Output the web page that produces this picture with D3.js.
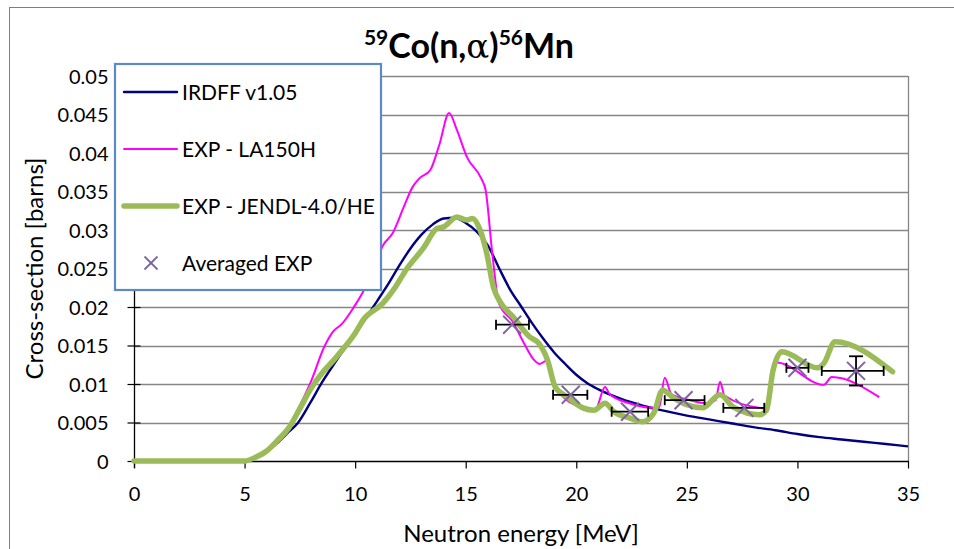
<!DOCTYPE html>
<html>
<head>
<meta charset="utf-8">
<script src="https://cdn.jsdelivr.net/npm/d3@7"></script>
<style>
  html, body { margin: 0; padding: 0; background: #fff; }
  svg { display: block; font-family: Lato, "Open Sans", sans-serif; }
</style>
</head>
<body>
<svg id="chart" width="954" height="549"></svg>
<script>
// IRDFF v1.05 evaluated cross-section
const irdffE  = [0, 4.8, 5.2, 5.6, 6.0, 6.5, 7.0, 7.4, 8.0, 8.5, 9.0, 9.5, 10.0, 10.5, 11.0, 11.5, 12.0, 12.5, 13.0, 13.5, 14.0, 14.5, 15.0, 15.5, 16.0, 16.5, 17.0, 17.5, 18.0, 18.5, 19.0, 19.5, 20.0, 20.5, 21.0, 22.0, 23.0, 24.0, 25.0, 26.0, 27.0, 28.0, 29.0, 30.0, 31.0, 32.0, 33.0, 34.0, 35.0];
const irdffXS = [0, 0, 0.0001, 0.0005, 0.0012, 0.0024, 0.0038, 0.0049, 0.0077, 0.0102, 0.0124, 0.0145, 0.0165, 0.0186, 0.0208, 0.0230, 0.0254, 0.0276, 0.0294, 0.0307, 0.0315, 0.0316, 0.0309, 0.0298, 0.0280, 0.0251, 0.0223, 0.0201, 0.0179, 0.0159, 0.0141, 0.0126, 0.0112, 0.0101, 0.0093, 0.0081, 0.0072, 0.0065, 0.0059, 0.0054, 0.0049, 0.0044, 0.0040, 0.0035, 0.0031, 0.0028, 0.0025, 0.0022, 0.0019];

// EXP - LA150H
const la150E  = [0, 5.0, 5.5, 6.0, 6.5, 7.0, 7.5, 8.0, 8.6, 9.0, 9.4, 9.9, 10.4, 10.9, 11.26, 11.7, 12.2, 12.6, 12.9, 13.4, 13.8, 14.25, 14.6, 15.05, 15.7, 15.9, 16.2, 16.5, 17.15, 17.6, 18.1, 18.35, 18.7, 18.95, 19.26, 20.2, 20.85, 21.3, 21.5, 22.4, 23.5, 23.75, 24.0, 24.3, 25.0, 25.9, 26.3, 26.5, 26.7, 28.3, 28.6, 29.05, 31.2, 31.55, 33.7];
const la150XS = [0, 0, 0.0005, 0.0014, 0.0028, 0.0045, 0.0072, 0.0103, 0.0148, 0.0168, 0.0178, 0.0198, 0.0222, 0.0255, 0.0280, 0.0296, 0.0330, 0.0356, 0.0367, 0.0378, 0.0410, 0.0452, 0.0430, 0.0395, 0.0367, 0.0352, 0.0270, 0.0205, 0.0180, 0.0155, 0.0131, 0.0126, 0.0131, 0.0105, 0.0088, 0.0070, 0.0066, 0.0096, 0.0087, 0.0075, 0.0069, 0.0070, 0.0108, 0.0087, 0.0080, 0.0075, 0.0079, 0.0103, 0.0085, 0.0069, 0.0068, 0.0128, 0.0099, 0.0109, 0.0083];

// EXP - JENDL-4.0/HE
const jendlE  = [0, 5.0, 5.5, 6.0, 6.5, 7.0, 7.5, 8.0, 8.5, 9.0, 9.5, 10.0, 10.36, 11.26, 11.8, 12.3, 13.1, 13.7, 14.0, 14.6, 15.05, 15.3, 15.65, 15.95, 16.25, 16.55, 17.15, 17.9, 18.3, 18.7, 19.05, 19.6, 20.3, 20.8, 21.3, 21.7, 22.4, 23.0, 23.5, 23.9, 24.4, 25.0, 25.7, 26.5, 27.1, 28.3, 28.6, 28.9, 29.3, 30.9, 31.2, 31.7, 34.3];
const jendlXS = [0, 0, 0.0005, 0.0013, 0.0027, 0.0043, 0.0068, 0.0094, 0.0114, 0.0130, 0.0147, 0.0166, 0.0183, 0.0205, 0.0225, 0.0248, 0.0277, 0.0302, 0.0304, 0.0317, 0.0313, 0.0315, 0.0300, 0.0270, 0.0226, 0.0207, 0.0187, 0.0161, 0.0153, 0.0131, 0.0096, 0.0083, 0.0069, 0.0066, 0.0075, 0.0064, 0.0056, 0.0051, 0.0062, 0.0092, 0.0082, 0.0073, 0.0069, 0.0086, 0.0070, 0.0060, 0.0066, 0.0118, 0.0142, 0.0121, 0.0127, 0.0155, 0.0116];

// Averaged EXP with energy bins and uncertainty
const avgE    = [17.1, 19.75, 22.43, 24.85, 27.6, 30.0, 32.65];
const avgXS   = [0.0177, 0.0086, 0.0064, 0.0079, 0.0069, 0.0121, 0.0117];
const avgElo  = [16.37, 18.95, 21.6, 24.0, 26.65, 29.5, 31.1];
const avgEhi  = [17.86, 20.5, 23.25, 25.8, 28.5, 30.5, 33.9];
const avgErr  = [0, 0, 0, 0, 0, 0, 0.0019];

const xTicks = [0, 5, 10, 15, 20, 25, 30, 35];
const yTicks = [0, 0.005, 0.01, 0.015, 0.02, 0.025, 0.03, 0.035, 0.04, 0.045, 0.05];

const seriesNames = ["IRDFF v1.05", "EXP - LA150H", "EXP - JENDL-4.0/HE", "Averaged EXP"];

const svg = d3.select("#chart");
const pLeft = 134, pRight = 908, pTop = 76, pBottom = 461;

const x = d3.scaleLinear().domain([0, 35]).range([pLeft, pRight]);
const y = d3.scaleLinear().domain([0, 0.05]).range([pBottom, pTop]);

// chart area border
svg.append("rect").attr("x", 9.5).attr("y", 7.5).attr("width", 980).attr("height", 600)
  .attr("fill", "#fff").attr("stroke", "#7f7f7f").attr("stroke-width", 1);

// gridlines
svg.append("g").selectAll("line").data(yTicks.slice(1)).join("line")
  .attr("x1", pLeft).attr("x2", pRight)
  .attr("y1", d => Math.round(y(d)) + 0.5).attr("y2", d => Math.round(y(d)) + 0.5)
  .attr("stroke", "#868686").attr("stroke-width", 1.3);

// plot area right edge
svg.append("line").attr("x1", pRight + 0.5).attr("x2", pRight + 0.5).attr("y1", pTop).attr("y2", pBottom)
  .attr("stroke", "#868686").attr("stroke-width", 1.3);

// axes
const yAxis = d3.axisLeft(y).tickValues(yTicks).tickSize(0).tickPadding(0)
  .tickFormat(d => d === 0 ? "0" : String(+d.toFixed(3)));
const gy = svg.append("g").attr("transform", `translate(${pLeft + 0.5},0)`).call(yAxis);
gy.select(".domain").remove();
gy.selectAll(".tick text").attr("x", -26).attr("dy", "0.35em")
  .attr("font-size", 20).attr("font-family", "Lato").attr("fill", "#000");
gy.selectAll(".tick").append("line").attr("x1", -7).attr("x2", 6).attr("stroke", "#000").attr("stroke-width", 1.2);

const xAxis = d3.axisBottom(x).tickValues(xTicks).tickSize(7).tickPadding(0).tickFormat(d3.format("d"));
const gx = svg.append("g").attr("transform", `translate(0,${pBottom + 0.5})`).call(xAxis);
gx.select(".domain").remove();
gx.selectAll(".tick line").attr("stroke", "#000").attr("stroke-width", 1.2);
gx.selectAll(".tick text").attr("y", 25).attr("dy", "0.71em")
  .attr("font-size", 20).attr("font-family", "Lato").attr("fill", "#000");

svg.append("line").attr("x1", pLeft).attr("x2", pRight + 1).attr("y1", pBottom + 0.5).attr("y2", pBottom + 0.5)
  .attr("stroke", "#000").attr("stroke-width", 1.3);
svg.append("line").attr("x1", pLeft + 0.5).attr("x2", pLeft + 0.5).attr("y1", pTop).attr("y2", pBottom + 7)
  .attr("stroke", "#000").attr("stroke-width", 1.3);

// series lines
const toPts = (es, vs) => es.map((e, i) => [e, vs[i]]);
const line = d3.line().x(d => x(d[0])).y(d => y(d[1])).curve(d3.curveMonotoneX);

svg.append("path").datum(toPts(irdffE, irdffXS)).attr("d", line)
  .attr("fill", "none").attr("stroke", "#000080").attr("stroke-width", 2.4).attr("stroke-linejoin", "round");
svg.append("path").datum(toPts(la150E, la150XS)).attr("d", line)
  .attr("fill", "none").attr("stroke", "#ff00ff").attr("stroke-width", 2).attr("stroke-linejoin", "round");
svg.append("path").datum(toPts(jendlE, jendlXS)).attr("d", line)
  .attr("fill", "none").attr("stroke", "#9bbb59").attr("stroke-width", 5.5)
  .attr("stroke-linejoin", "round").attr("stroke-linecap", "round");

// averaged experimental points with error bars
const avg = avgE.map((e, i) => ({ e, v: avgXS[i], lo: avgElo[i], hi: avgEhi[i], err: avgErr[i] }));
const eb = svg.append("g").attr("stroke", "#000").attr("stroke-width", 1.8).attr("fill", "none");
avg.forEach(p => {
  const yy = y(p.v);
  eb.append("line").attr("x1", x(p.lo)).attr("x2", x(p.hi)).attr("y1", yy).attr("y2", yy);
  eb.append("line").attr("x1", x(p.lo)).attr("x2", x(p.lo)).attr("y1", yy - 5).attr("y2", yy + 5);
  eb.append("line").attr("x1", x(p.hi)).attr("x2", x(p.hi)).attr("y1", yy - 5).attr("y2", yy + 5);
  if (p.err > 0) {
    const y1 = y(p.v + p.err), y2 = y(p.v - p.err);
    eb.append("line").attr("x1", x(p.e)).attr("x2", x(p.e)).attr("y1", y1).attr("y2", y2);
    eb.append("line").attr("x1", x(p.e) - 7).attr("x2", x(p.e) + 7).attr("y1", y1).attr("y2", y1);
    eb.append("line").attr("x1", x(p.e) - 7).attr("x2", x(p.e) + 7).attr("y1", y2).attr("y2", y2);
  }
});
const cross = (g, cx, cy, r) => {
  g.append("line").attr("x1", cx - r).attr("x2", cx + r).attr("y1", cy - r).attr("y2", cy + r);
  g.append("line").attr("x1", cx - r).attr("x2", cx + r).attr("y1", cy + r).attr("y2", cy - r);
};
const mk = svg.append("g").attr("stroke", "#8064a2").attr("stroke-width", 2);
avg.forEach(p => cross(mk, x(p.e), y(p.v), 9));

// legend
const lg = svg.append("g");
lg.append("rect").attr("x", 115).attr("y", 64).attr("width", 266).attr("height", 226)
  .attr("fill", "#fff").attr("stroke", "#5b8ac6").attr("stroke-width", 2.2);
const rows = [92, 149, 206, 263];
const lstyles = [
  { c: "#000080", w: 2.4 }, { c: "#ff00ff", w: 2 }, { c: "#9bbb59", w: 5.5 }
];
lstyles.forEach((s, i) => {
  lg.append("line").attr("x1", 124).attr("x2", 177).attr("y1", rows[i]).attr("y2", rows[i])
    .attr("stroke", s.c).attr("stroke-width", s.w).attr("stroke-linecap", "round");
});
const lmk = lg.append("g").attr("stroke", "#8064a2").attr("stroke-width", 1.8);
cross(lmk, 151, rows[3], 6.5);
lg.selectAll("text").data(seriesNames).join("text")
  .attr("x", 182).attr("y", (d, i) => rows[i]).attr("dy", "0.36em")
  .attr("font-size", 21).attr("fill", "#000").text(d => d);

// title
const title = svg.append("text").attr("x", 469).attr("y", 58).attr("text-anchor", "middle")
  .attr("font-size", 34).attr("font-weight", "bold").attr("fill", "#000");
title.append("tspan").attr("font-size", 21).attr("dy", -13).text("59");
title.append("tspan").attr("dy", 13).text("Co(n,");
title.append("tspan").attr("font-family", "DejaVu Serif").attr("font-weight", "normal").text("α");
title.append("tspan").text(")");
title.append("tspan").attr("font-size", 21).attr("dy", -13).text("56");
title.append("tspan").attr("dy", 13).text("Mn");

// axis titles
svg.append("text").attr("x", (pLeft + pRight) / 2).attr("y", 542).attr("text-anchor", "middle")
  .attr("font-size", 24).attr("fill", "#000").text("Neutron energy [MeV]");
svg.append("text").attr("transform", `translate(43,${(pTop + pBottom) / 2}) rotate(-90)`)
  .attr("text-anchor", "middle").attr("font-size", 24).attr("fill", "#000").text("Cross-section [barns]");
</script>
</body>
</html>
